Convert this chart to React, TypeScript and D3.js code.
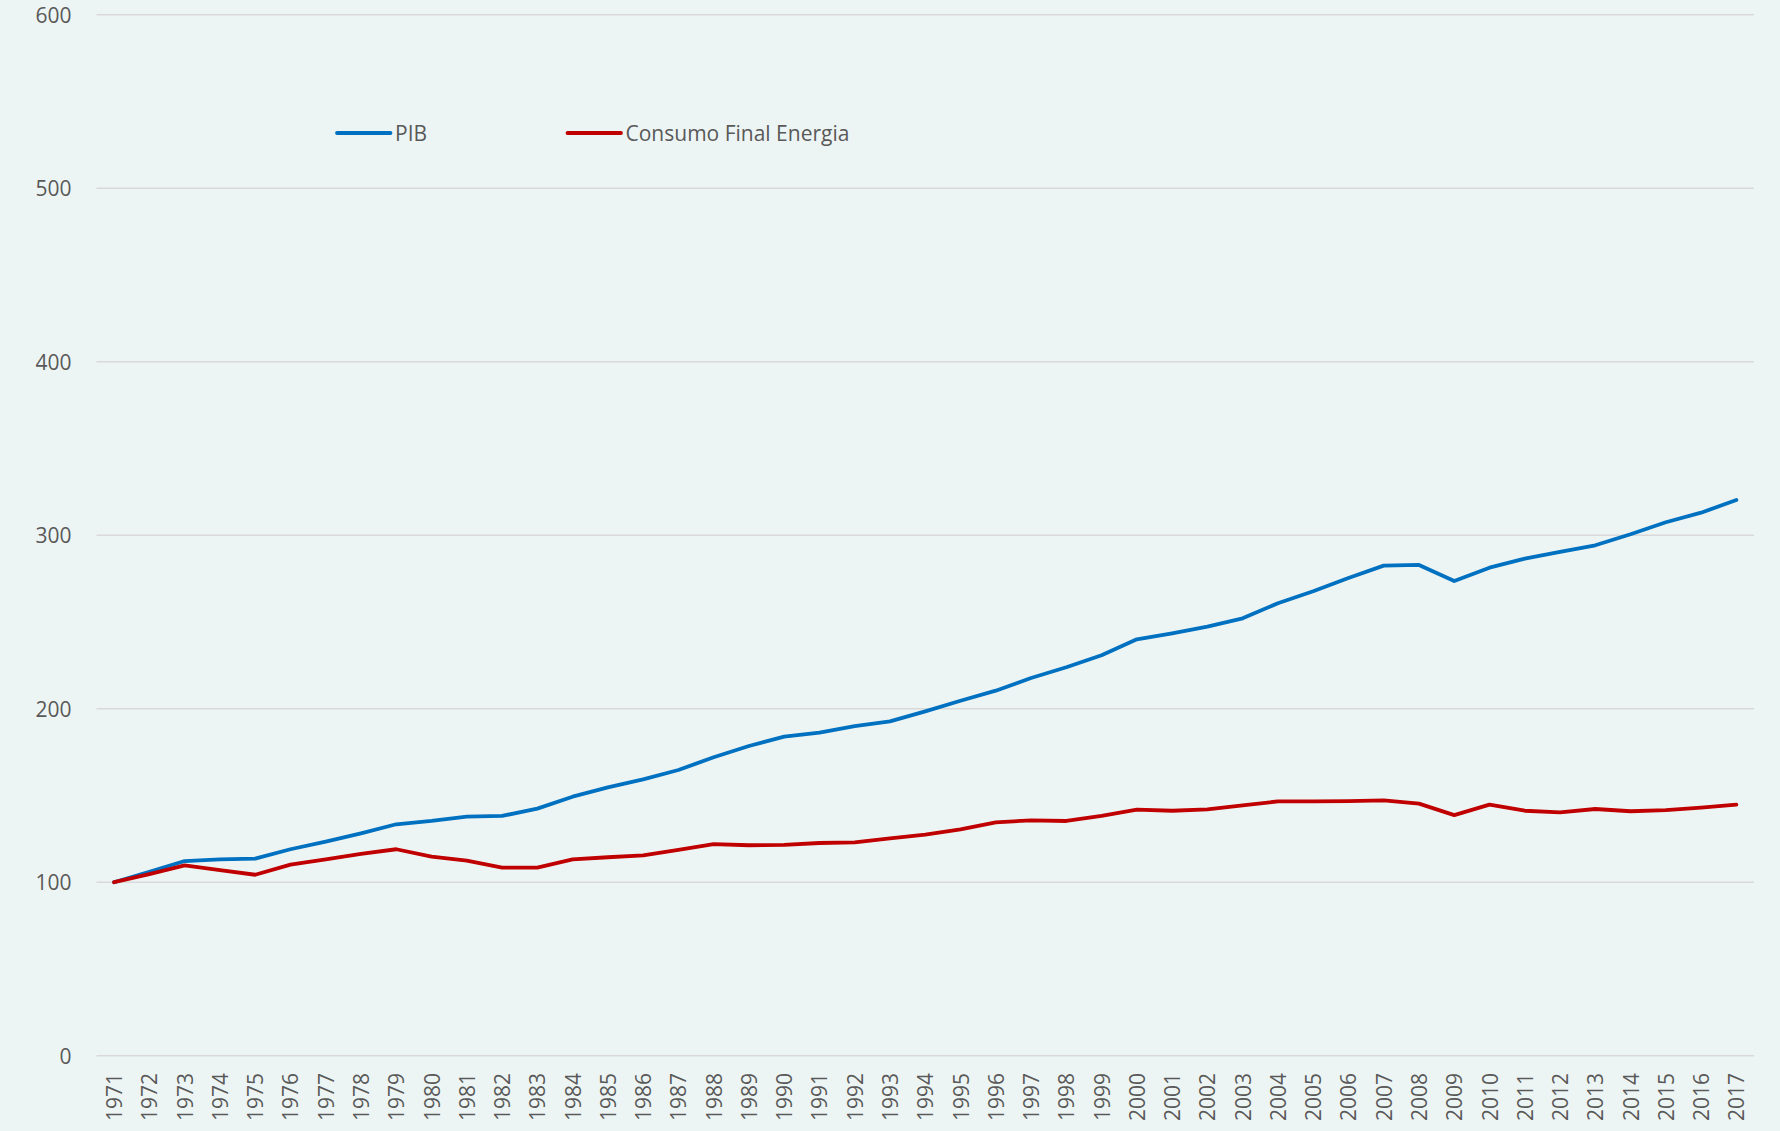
import React from "react";
import * as d3 from "d3";

const years: string[] = d3.range(1971, 2018).map(String);

const pib: number[] = [
  100, 106.0, 112.2, 113.2, 113.6, 119.0, 123.4, 128.2, 133.4, 135.3,
  137.8, 138.2, 142.4, 149.3, 154.7, 159.3, 164.7, 172.0, 178.5, 183.9,
  186.2, 190.0, 192.7, 198.5, 204.6, 210.4, 217.7, 223.9, 230.8, 240.0,
  243.5, 247.3, 252.1, 260.8, 267.7, 275.4, 282.5, 282.9, 273.6, 281.3,
  286.5, 290.4, 294.2, 300.6, 307.5, 313.0, 320.3,
];

const consumo: number[] = [
  100, 104.7, 109.7, 107.0, 104.3, 110.1, 113.2, 116.3, 119.0, 114.7,
  112.4, 108.4, 108.4, 113.2, 114.4, 115.5, 118.6, 122.0, 121.3, 121.5,
  122.6, 123.0, 125.3, 127.4, 130.4, 134.5, 135.7, 135.3, 138.3, 141.8,
  141.2, 142.0, 144.3, 146.6, 146.6, 146.8, 147.2, 145.3, 138.7, 144.7,
  141.2, 140.3, 142.2, 140.9, 141.6, 143.0, 144.7,
];

const yTicks: number[] = [0, 100, 200, 300, 400, 500, 600];

const seriesNames: string[] = ["PIB", "Consumo Final Energia"];
const seriesColors: string[] = ["#0070C0", "#C00000"];

const W = 1780;
const H = 1131;
const FONT = "'Open Sans', 'Liberation Sans', sans-serif";
const TEXT = "#595959";
const FS = 21;

export default function App() {
  const x = d3.scalePoint<string>().domain(years).range([96.5, 1754]).padding(0.5);
  const y = d3.scaleLinear().domain([0, 600]).range([1055.7, 14.8]);

  const line = d3
    .line<number>()
    .x((_, i) => x(years[i]) as number)
    .y((d) => y(d));

  const series = [pib, consumo];
  const legendX = [337, 567.5];
  const legendY = 133;

  return (
    <svg
      width={W}
      height={H}
      style={{ position: "absolute", left: 0, top: 0, display: "block" }}
      fontFamily={FONT}
    >
      <rect x={0} y={0} width={W} height={H} fill="#EDF5F4" />
      {yTicks.map((t) => (
        <g key={t}>
          <line x1={96.5} x2={1754} y1={y(t)} y2={y(t)} stroke="#D9D9D9" strokeWidth={1.5} />
          <text
            x={71.5}
            y={y(t)}
            textAnchor="end"
            dominantBaseline="central"
            fontSize={FS}
            fill={TEXT}
          >
            {t}
          </text>
        </g>
      ))}
      {years.map((yr) => (
        <text
          key={yr}
          transform={`translate(${x(yr)},1073) rotate(-90)`}
          textAnchor="end"
          dominantBaseline="central"
          fontSize={FS}
          fill={TEXT}
        >
          {yr}
        </text>
      ))}
      {series.map((s, i) => (
        <path
          key={seriesNames[i]}
          d={line(s) || ""}
          fill="none"
          stroke={seriesColors[i]}
          strokeWidth={3.8}
          strokeLinejoin="round"
          strokeLinecap="round"
        />
      ))}
      {seriesNames.map((n, i) => (
        <g key={n}>
          <line
            x1={legendX[i]}
            x2={legendX[i] + 53.5}
            y1={legendY}
            y2={legendY}
            stroke={seriesColors[i]}
            strokeWidth={3.8}
            strokeLinecap="round"
          />
          <text
            x={legendX[i] + 58}
            y={legendY}
            dominantBaseline="central"
            fontSize={FS}
            fill={TEXT}
          >
            {n}
          </text>
        </g>
      ))}
    </svg>
  );
}
